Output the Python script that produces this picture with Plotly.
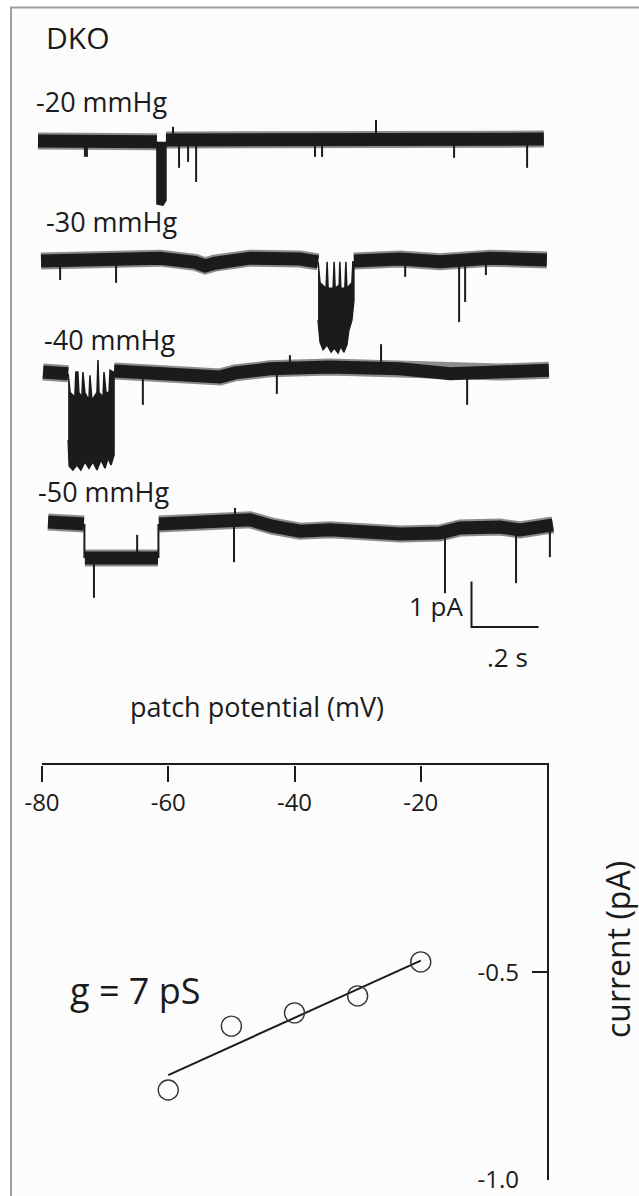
import plotly.graph_objects as go

# ------------------------------------------------------------------
# DATA
# single-channel traces: time (s) from trace start, current (pA) relative to closed level
pressures = ["-20 mmHg", "-30 mmHg", "-40 mmHg", "-50 mmHg"]

# -20 mmHg
t1_band = [0.0, 0.185, 0.355, None, 0.382, 0.484, 0.603, 0.782, 0.991, 1.140, 1.319, 1.510]
i1_band = [-0.02, -0.04, -0.04, None, 0.0, 0.0, 0.02, 0.04, 0.07, 0.04, 0.0, 0.02]
t1_open = [0.355, 0.355, 0.373, 0.382, 0.382]
i1_open = [-0.04, -1.40, -1.43, -1.32, -0.04]
t1_spk = [0.140, 0.146, 0.421, 0.448, 0.472, 0.827, 0.848, 1.242, 1.460, 1.009, 0.403]
i1_spk_from = [0, 0, 0, 0, 0, 0, 0, 0, 0, 0, 0]
i1_spk_to = [-0.37, -0.37, -0.61, -0.48, -0.92, -0.37, -0.37, -0.39, -0.61, 0.44, 0.29]

# -30 mmHg
t2_band = [0.009, 0.185, 0.364, 0.469, 0.499, 0.528, 0.633, 0.782, 0.836, None,
           0.943, 1.081, 1.200, 1.349, 1.519]
i2_band = [-0.02, 0.02, 0.04, -0.05, -0.13, -0.07, 0.04, 0.02, -0.04, None,
           -0.02, 0.02, -0.04, 0.04, 0.0]
t2_open = [0.836, 0.842, 0.860, 0.863, 0.866, 0.881, 0.884, 0.887, 0.899, 0.901, 0.904,
           0.916, 0.919, 0.922, 0.937, 0.940,
           0.943, 0.943, 0.937, 0.928, 0.922, 0.913, 0.904, 0.896, 0.884, 0.875,
           0.863, 0.851, 0.842, 0.836]
i2_open = [-0.04, -0.50, -0.62, -0.04, -0.62, -0.62, -0.04, -0.62, -0.55, -0.04, -0.62,
           -0.62, -0.04, -0.62, -0.50, -0.04,
           -0.04, -0.88, -1.32, -1.54, -1.86, -2.02, -1.89, -2.04, -1.93, -2.02,
           -1.86, -1.97, -1.80, -1.32]
t2_spk = [0.066, 0.233, 1.096, 1.257, 1.275, 1.337]
i2_spk_from = [0, 0, 0, 0, 0, 0]
i2_spk_to = [-0.44, -0.50, -0.37, -1.36, -0.92, -0.33]

# -40 mmHg
t3_band = [0.015, 0.090, None, 0.227, 0.334, 0.484, 0.543, 0.588, 0.693, 0.872,
           1.081, 1.230, 1.379, 1.525]
i3_band = [0.0, -0.04, None, 0.02, 0.0, -0.04, -0.11, -0.02, 0.07, 0.11,
           0.07, -0.04, 0.0, 0.04]
t3_open = [0.090, 0.096, 0.110, 0.113, 0.119, 0.122, 0.131, 0.134, 0.140, 0.152, 0.155,
           0.161, 0.176, 0.179, 0.182, 0.194, 0.197, 0.203, 0.212, 0.215, 0.224,
           0.227, 0.227, 0.218, 0.209, 0.200, 0.188, 0.176, 0.164, 0.152, 0.140,
           0.128, 0.116, 0.104, 0.093, 0.090]
i3_open = [-0.04, -0.45, -0.55, 0.0, 0.0, -0.45, -0.55, 0.0, -0.45, -0.62, -0.07,
           -0.62, -0.45, 0.26, -0.45, -0.55, 0.0, -0.45, -0.45, 0.04, 0.0,
           0.0, -1.82, -2.04, -1.89, -2.11, -1.93, -2.15, -1.97, -2.11, -1.97,
           -2.15, -2.04, -2.15, -2.06, -1.49]
t3_spk = [0.313, 0.713, 1.281, 1.024, 0.752]
i3_spk_from = [0, 0, 0, 0, 0]
i3_spk_to = [-0.72, -0.48, -0.72, 0.61, 0.37]

# -50 mmHg (with a sub-conductance dwell)
t4_band = [0.030, 0.137, None, 0.140, 0.245, 0.358, None, 0.361, 0.484, 0.579, 0.633,
           0.699, 0.782, 0.872, 0.976, 1.081, 1.200, 1.260, 1.379, 1.439, 1.537]
i4_band = [0.02, -0.02, None, -0.77, -0.75, -0.77, None, -0.02, 0.04, 0.09, 0.07,
           -0.07, -0.18, -0.15, -0.22, -0.24, -0.22, -0.11, -0.09, -0.15, -0.04]
t4_open = []
i4_open = []
t4_spk = [0.1385, 0.3595, 0.167, 0.296, 0.585, 0.588, 1.215, 1.427, 1.528]
i4_spk_from = [-0.02, -0.77, -0.77, -0.77, 0.09, 0.09, -0.22, -0.15, -0.04]
i4_spk_to = [-0.77, -0.02, -1.64, -0.26, -0.86, 0.33, -1.54, -1.32, -0.75]

# current-voltage relation
patch_mv = [-60, -50, -40, -30, -20]
current_pa = [-0.784, -0.630, -0.598, -0.557, -0.475]
fit_mv = [-60, -20]
fit_pa = [-0.748, -0.472]
x_ticks = [-80, -60, -40, -20]
x_ticktext = ["-80", "-60", "-40", "-20"]
y_ticks = [-1.0, -0.5]
y_ticktext = ["-1.0", "-0.5"]

# ------------------------------------------------------------------
W, H = 639, 1196
INK = "#1b1b1b"
HALO = "rgba(27,27,27,0.5)"
FONT = "Open Sans"


def px(x):
    return x / W


def py(y):
    return 1 - y / H


# trace panel geometry (pixels per unit)
PX_PER_S = 335.0
PX_PER_PA = 45.6
T_ORIGIN_PX = 38.0
trace_offsets = [-140 / PX_PER_PA, -260 / PX_PER_PA, -372 / PX_PER_PA, -523 / PX_PER_PA]

fig = go.Figure()

traces = [
    (t1_band, i1_band, t1_open, i1_open, t1_spk, i1_spk_from, i1_spk_to),
    (t2_band, i2_band, t2_open, i2_open, t2_spk, i2_spk_from, i2_spk_to),
    (t3_band, i3_band, t3_open, i3_open, t3_spk, i3_spk_from, i3_spk_to),
    (t4_band, i4_band, t4_open, i4_open, t4_spk, i4_spk_from, i4_spk_to),
]


def shift(vals, off):
    return [None if v is None else v + off for v in vals]


for k, (tb, ib, to, io, ts, sf, st) in enumerate(traces):
    off = trace_offsets[k]
    # noisy closed/sub level: soft outer envelope + solid core
    fig.add_trace(go.Scatter(x=tb, y=shift(ib, off), mode="lines", xaxis="x2", yaxis="y2",
                             line=dict(color=HALO, width=17), hoverinfo="skip",
                             showlegend=False))
    fig.add_trace(go.Scatter(x=tb, y=shift(ib, off), mode="lines", xaxis="x2", yaxis="y2",
                             line=dict(color=INK, width=13), hoverinfo="skip",
                             showlegend=False, name=pressures[k]))
    if to:
        fig.add_trace(go.Scatter(x=to, y=shift(io, off), mode="lines", xaxis="x2", yaxis="y2",
                                 fill="toself", fillcolor=INK, line=dict(color=INK, width=1.5),
                                 hoverinfo="skip", showlegend=False))
    sx, sy = [], []
    for t, a, b in zip(ts, sf, st):
        sx += [t, t, None]
        sy += [a + off, b + off, None]
    fig.add_trace(go.Scatter(x=sx, y=sy, mode="lines", xaxis="x2", yaxis="y2",
                             line=dict(color=INK, width=2), hoverinfo="skip", showlegend=False))

# scale bar: 1 pA, 0.2 s
sb_t = (471.5 - T_ORIGIN_PX) / PX_PER_S
sb_y = -627 / PX_PER_PA
fig.add_trace(go.Scatter(x=[sb_t, sb_t, sb_t + 0.2], y=[sb_y + 1.0, sb_y, sb_y],
                         mode="lines", xaxis="x2", yaxis="y2",
                         line=dict(color=INK, width=2), hoverinfo="skip", showlegend=False))

# IV relation
fig.add_trace(go.Scatter(x=fit_mv, y=fit_pa, mode="lines", line=dict(color=INK, width=2),
                         showlegend=False))
fig.add_trace(go.Scatter(x=patch_mv, y=current_pa, mode="markers",
                         marker=dict(symbol="circle-open", size=20, color="#333333",
                                     line=dict(width=1.4, color="#333333")),
                         showlegend=False))
# same points on the tick/label axes (invisible) so those axes are drawn
fig.add_trace(go.Scatter(x=patch_mv, y=current_pa, mode="markers", xaxis="x3", yaxis="y3",
                         marker=dict(opacity=0), hoverinfo="skip", showlegend=False))

tick_font = dict(family=FONT, size=24, color=INK)
x_dom = [px(42), px(547)]
y_dom = [py(1179.5), py(765)]
fig.update_layout(
    width=W, height=H,
    margin=dict(l=0, r=0, t=0, b=0, autoexpand=False),
    paper_bgcolor="white", plot_bgcolor="rgba(0,0,0,0)",
    showlegend=False,
    xaxis=dict(domain=x_dom, range=[-80, 0], side="top", anchor="y", automargin=False,
               showline=True, linecolor=INK, linewidth=2, showgrid=False, zeroline=False,
               ticks="", showticklabels=False),
    yaxis=dict(domain=y_dom, range=[-1.0, 0], side="right", anchor="x", automargin=False,
               showline=True, linecolor=INK, linewidth=2, showgrid=False, zeroline=False,
               ticks="inside", ticklen=15, tickwidth=2, tickcolor=INK,
               tickvals=y_ticks, showticklabels=False),
    # voltage ticks hang down from the top axis line, labels below them
    xaxis3=dict(domain=x_dom, range=[-80, 0], overlaying="x", anchor="free",
                position=py(765), side="bottom", automargin=False, showline=False,
                showgrid=False, zeroline=False, ticks="outside", ticklen=16, tickwidth=2,
                tickcolor=INK, tickvals=x_ticks, ticktext=x_ticktext, tickfont=tick_font,
                ticklabelstandoff=0),
    yaxis3=dict(domain=y_dom, range=[-1.0, 0], overlaying="y", anchor="free",
                position=px(519), side="left", automargin=False, showline=False,
                showgrid=False, zeroline=False, ticks="", tickvals=y_ticks,
                ticktext=y_ticktext, tickfont=tick_font),
    xaxis2=dict(domain=[0, 1], range=[-T_ORIGIN_PX / PX_PER_S, (W - T_ORIGIN_PX) / PX_PER_S],
                anchor="y2", visible=False, automargin=False),
    yaxis2=dict(domain=[0, 1], range=[-H / PX_PER_PA, 0], anchor="x2", visible=False,
                automargin=False),
)

# frame
fig.add_shape(type="rect", xref="paper", yref="paper", x0=px(11), x1=px(720), y0=py(1260),
              y1=py(7.5), line=dict(color="#a0a0a0", width=2), fillcolor="#fcfcfc",
              layer="below")


def label(text, x, y, size, xanchor="left", angle=0):
    fig.add_annotation(text=text, x=px(x), y=py(y), xref="paper", yref="paper",
                       xanchor=xanchor, yanchor="middle", showarrow=False, textangle=angle,
                       font=dict(family=FONT, size=size, color=INK))


label("DKO", 44, 38, 30)
label(pressures[0], 34, 101, 27)
label(pressures[1], 44, 222, 27)
label(pressures[2], 42, 339, 27)
label(pressures[3], 36, 492, 27)
label("1 pA", 466, 606, 26, xanchor="right")
label(".2 s", 507, 657, 26, xanchor="center")
label("patch potential (mV)", 257, 706, 27, xanchor="center")
label("current (pA)", 617, 950, 32, xanchor="center", angle=-90)
label("g = 7 pS", 68, 991, 36)

fig.write_html("out.html")
